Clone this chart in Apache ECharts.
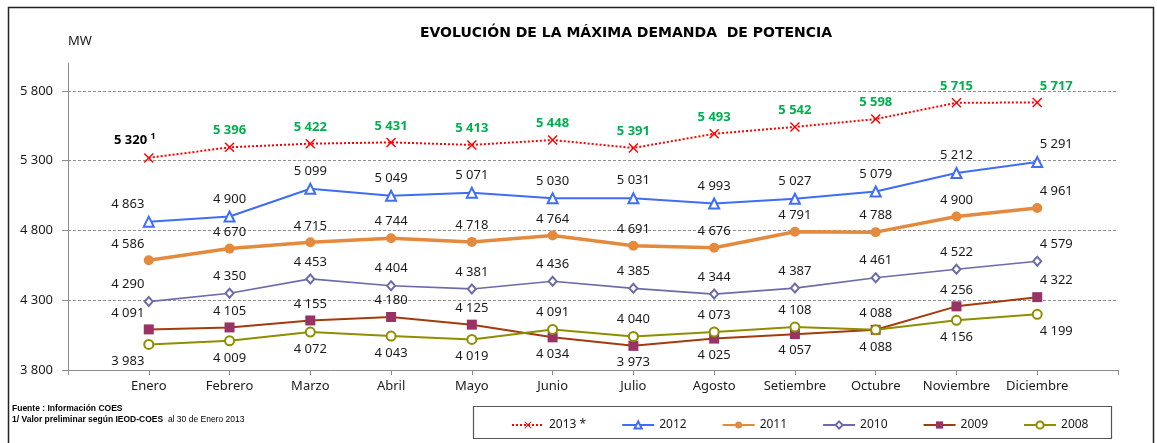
<!DOCTYPE html>
<html>
<head>
<meta charset="utf-8">
<script src="https://cdn.jsdelivr.net/npm/echarts@6/dist/echarts.min.js"></script>
<style>
    html, body { margin: 0; padding: 0; background: #fff; }
    #chart { width: 1157px; height: 443px; }
</style>
</head>
<body>
<div id="chart"></div>
<script>
// ================* MAXIMA DEMANDA *

var months = ['Enero', 'Febrero', 'Marzo', 'Abril', 'Mayo', 'Junio', 'Julio', 'Agosto', 'Setiembre', 'Octubre', 'Noviembre', 'Diciembre'];
var yTicks = [3800, 4300, 4800, 5300, 5800];

var d2013 = [5320, 5396, 5422, 5431, 5413, 5448, 5391, 5493, 5542, 5598, 5715, 5717];
var d2012 = [4863, 4900, 5099, 5049, 5071, 5030, 5031, 4993, 5027, 5079, 5212, 5291];
var d2011 = [4586, 4670, 4715, 4744, 4718, 4764, 4691, 4676, 4791, 4788, 4900, 4961];
var d2010 = [4290, 4350, 4453, 4404, 4381, 4436, 4385, 4344, 4387, 4461, 4522, 4579];
var d2009 = [4091, 4105, 4155, 4180, 4125, 4034, 3973, 4025, 4057, 4088, 4256, 4322];
var d2008 = [3983, 4009, 4072, 4043, 4019, 4091, 4040, 4073, 4108, 4088, 4156, 4199];

var FONT = 'Noto Sans';

function fmt(v) {
    var s = String(v);
    return s.slice(0, s.length - 3) + ' ' + s.slice(-3);
}

// position: function(i) -> 'top' | 'bottom'
function makeData(vals, labelBase, position) {
    return vals.map(function (v, i) {
        var off = [0, 0];
        if (i == 0) off = [-21, 0];
        if (i == vals.length - 1) off = [19, 0];
        return {
            value: [i, v],
            label: Object.assign({}, labelBase, {
                position: position ? position(i) : 'top',
                offset: off
            })
        };
    });
}

var baseLabel = {
    show: true,
    fontFamily: FONT,
    fontSize: 13,
    color: '#1a1a1a',
    distance: 5,
    formatter: function (p) { return fmt(p.value[1]); }
};

var data2013 = makeData(d2013, Object.assign({}, baseLabel, { color: '#00B050', fontWeight: 'bold' }));
// first 2013 value is preliminary (footnote 1)
data2013[0].label = Object.assign({}, data2013[0].label, {
    color: '#000',
    offset: [-14, 0],
    formatter: '{v|' + fmt(d2013[0]) + '} {s|1}',
    rich: {
        v: { fontFamily: FONT, fontSize: 13, fontWeight: 'bold', color: '#000' },
        s: { fontFamily: FONT, fontSize: 9, fontWeight: 'bold', color: '#000', padding: [0, 0, 7, 0] }
    }
});

var series = [
    {
        name: '2013 *',
        type: 'line',
        data: data2013,
        symbol: 'path://M0,1L1,0L5,4L9,0L10,1L6,5L10,9L9,10L5,6L1,10L0,9L4,5Z',
        symbolSize: 10,
        lineStyle: { color: '#FF0000', width: 2, type: [2, 2] },
        itemStyle: { color: '#FF0000' },
        z: 6
    },
    {
        name: '2012',
        type: 'line',
        data: makeData(d2012, baseLabel),
        symbol: 'emptyTriangle',
        symbolSize: 10,
        lineStyle: { color: '#3F6DF5', width: 2 },
        itemStyle: { color: '#3F6DF5', borderWidth: 1.2 },
        z: 5
    },
    {
        name: '2011',
        type: 'line',
        data: makeData(d2011, baseLabel),
        symbol: 'circle',
        symbolSize: 10,
        lineStyle: { color: '#E38A3E', width: 3.5 },
        itemStyle: { color: '#E38A3E' },
        z: 4
    },
    {
        name: '2010',
        type: 'line',
        data: makeData(d2010, baseLabel),
        symbol: 'emptyDiamond',
        symbolSize: [8, 9],
        lineStyle: { color: '#6B6BA8', width: 1.6 },
        itemStyle: { color: '#6B6BA8', borderWidth: 1 },
        z: 3
    },
    {
        name: '2009',
        type: 'line',
        data: makeData(d2009, baseLabel, function (i) { return d2009[i] >= d2008[i] ? 'top' : 'bottom'; }),
        symbol: 'rect',
        symbolSize: 10,
        lineStyle: { color: '#A33C0C', width: 2 },
        itemStyle: { color: '#993366' },
        z: 2
    },
    {
        name: '2008',
        type: 'line',
        data: makeData(d2008, baseLabel, function (i) { return d2009[i] >= d2008[i] ? 'bottom' : 'top'; }),
        symbol: 'emptyCircle',
        symbolSize: 9,
        lineStyle: { color: '#8E8E00', width: 2 },
        itemStyle: { color: '#8E8E00', borderWidth: 1.2 },
        z: 2
    }
];

var chart = echarts.init(document.getElementById('chart'));

var option = {
    animation: false,
    backgroundColor: '#fff',
    title: {
        text: 'EVOLUCIÓN DE LA MÁXIMA DEMANDA  DE POTENCIA',
        left: 621,
        textAlign: 'center',
        top: 21,
        textStyle: { fontFamily: 'DejaVu Sans', fontSize: 14, fontWeight: 'bold', color: '#000' }
    },
    grid: {
        left: 68,
        right: 39,
        top: 63,
        bottom: 73
    },
    xAxis: {
        type: 'value',
        min: -1,
        max: 12,
        interval: 1,
        axisLine: { show: true, onZero: false, lineStyle: { color: '#8c8c8c', width: 1 } },
        axisTick: { show: true, length: 5, lineStyle: { color: '#8c8c8c' } },
        splitLine: { show: false },
        axisLabel: {
            fontFamily: FONT,
            fontSize: 13,
            color: '#1a1a1a',
            margin: 10,
            showMinLabel: true,
            showMaxLabel: true,
            formatter: function (v) { return months[v] || ''; }
        }
    },
    yAxis: {
        type: 'value',
        min: yTicks[0],
        max: 6000,
        interval: 500,
        axisLine: { show: true, onZero: false, lineStyle: { color: '#8c8c8c', width: 1 } },
        axisTick: { show: true, length: 6, lineStyle: { color: '#8c8c8c' } },
        splitLine: {
            show: true,
            showMinLine: false,
            showMaxLine: false,
            lineStyle: { color: '#8f8f8f', type: [3, 2], width: 1 }
        },
        axisLabel: {
            fontFamily: FONT,
            fontSize: 13,
            color: '#1a1a1a',
            margin: 15,
            showMaxLabel: false,
            formatter: function (v) { return yTicks.indexOf(v) >= 0 ? fmt(v) : ''; }
        }
    },
    legend: {
        left: 506,
        top: 414,
        itemWidth: 32,
        itemHeight: 9,
        itemGap: 35,
        textStyle: { fontFamily: FONT, fontSize: 12, color: '#1a1a1a' },
        data: ['2013 *', '2012', '2011', '2010', '2009', '2008']
    },
    graphic: [
        {
            type: 'rect',
            left: 6, top: 5,
            shape: { width: 1145, height: 460 },
            style: { fill: 'none', stroke: '#222', lineWidth: 1.5 },
            silent: true
        },
        {
            type: 'rect',
            left: 471, top: 404,
            shape: { width: 638, height: 32 },
            style: { fill: 'none', stroke: '#555', lineWidth: 1.2 },
            silent: true,
            z: -1
        },
        {
            type: 'text',
            left: 68, top: 35,
            style: { text: 'MW', font: '13px "Noto Sans"', fill: '#1a1a1a' }
        },
        {
            type: 'text',
            left: 12, top: 404,
            style: {
                text: '{b|Fuente : Información COES}\n{b|1/ Valor preliminar según IEOD-COES}{n|  al 30 de Enero 2013}',
                rich: {
                    b: { fontFamily: 'Liberation Sans', fontSize: 8.5, fontWeight: 'bold', fill: '#000', lineHeight: 11 },
                    n: { fontFamily: 'Liberation Sans', fontSize: 8.5, fill: '#000', lineHeight: 11 }
                }
            }
        }
    ],
    series: series
};

chart.setOption(option);
</script>
</body>
</html>
